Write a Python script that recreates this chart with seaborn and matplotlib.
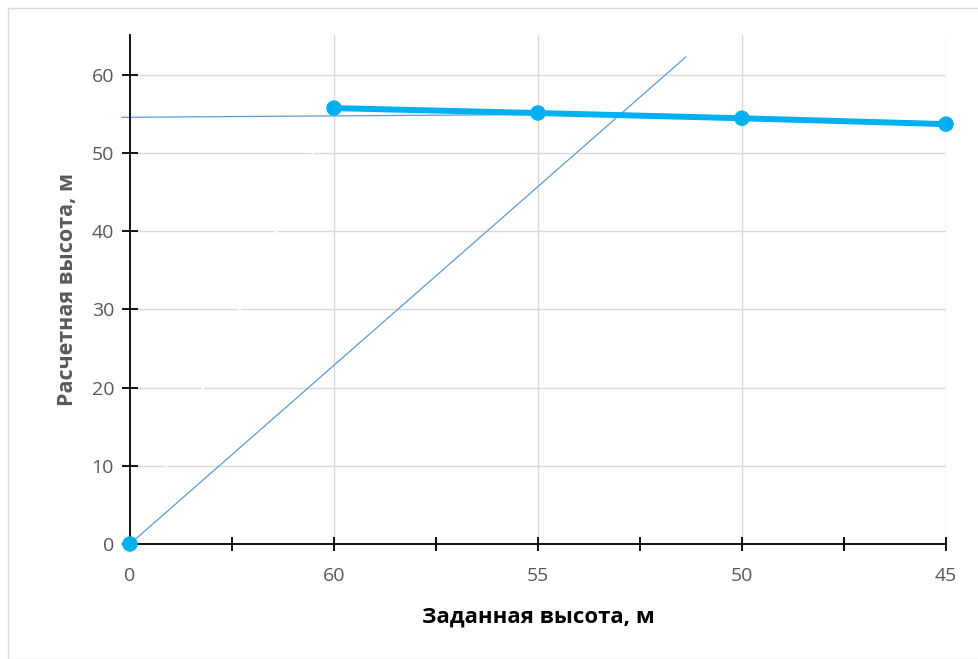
import matplotlib
matplotlib.use('Agg')
import matplotlib.pyplot as plt
import seaborn as sns
import pandas as pd
from matplotlib.patches import Rectangle

# x axis categories (Excel-style category axis)
x_labels = ['0', '60', '55', '50', '45']
calc_height = [0, 55.75, 55.12, 54.45, 53.7]

# thin trend-like lines, in category-position units
diag_x = [0, 2.725]
diag_y = [0, 62.3]
flat_x = [-0.04, 2.3]
flat_y = [54.57, 54.98]

sns.set_style('white')
plt.rcParams['font.family'] = ['Open Sans', 'DejaVu Sans']

pos = list(range(len(x_labels)))
df = pd.DataFrame({'pos': pos, 'h': calc_height})

fig = plt.figure(figsize=(9.79, 6.59), dpi=100)
ax = fig.add_axes([130 / 979, 1 - 544 / 659, 816 / 979, 509 / 659])

ax.set_xlim(0, len(x_labels) - 1)
ax.set_ylim(0, 65.1)

# gridlines
for y in range(10, 61, 10):
    ax.axhline(y, color='#D9D9D9', lw=1.0, zorder=0)
for p in pos[1:]:
    ax.axvline(p, color='#D9D9D9', lw=1.0, zorder=0)

# hidden first segment (white, only visible as breaks in the gridlines)
sns.lineplot(data=df.iloc[:2], x='pos', y='h', ax=ax, color='white', lw=1.5,
             zorder=1, sort=False)

# thin blue lines
sns.lineplot(x=diag_x, y=diag_y, ax=ax, color='#5B9BD5', lw=0.9, zorder=2)
sns.lineplot(x=flat_x, y=flat_y, ax=ax, color='#5B9BD5', lw=0.9, zorder=2)
ax.lines[-1].set_clip_on(False)

# main series
sns.lineplot(data=df.iloc[1:], x='pos', y='h', ax=ax, color='#00B0F0', lw=4.3,
             zorder=3, sort=False)
sns.scatterplot(data=df, x='pos', y='h', ax=ax, color='#00B0F0', s=125,
                edgecolor='none', zorder=4, clip_on=False)

for s in ['top', 'right']:
    ax.spines[s].set_visible(False)
for s in ['left', 'bottom']:
    ax.spines[s].set_color('black')
    ax.spines[s].set_linewidth(1.3)
    ax.spines[s].set_zorder(2.5)

ax.set_xticks(pos)
ax.set_xticklabels(x_labels)
ax.set_xticks([p + 0.5 for p in pos[:-1]], minor=True)
ax.set_yticks(range(0, 61, 10))
ax.tick_params(axis='x', which='both', bottom=True, direction='inout', length=9.5,
               width=1.3, color='black', labelsize=14, labelcolor='#595959', pad=12)
ax.tick_params(axis='y', left=True, direction='inout', length=11, width=1.3,
               color='black', labelsize=14, labelcolor='#595959', pad=6)

ax.set_xlabel('Заданная высота, м', fontsize=16, fontweight='bold',
              color='black', labelpad=15)
ax.set_ylabel('Расчетная высота, м', fontsize=15.5, fontweight='bold',
              color='#595959', labelpad=10)

# chart area border
fig.patches.append(Rectangle((8 / 979, 0), 1, 1 - 8 / 659, transform=fig.transFigure,
                             fill=False, edgecolor='#D9D9D9', lw=1.0))

fig.savefig('out.png', dpi=100)
